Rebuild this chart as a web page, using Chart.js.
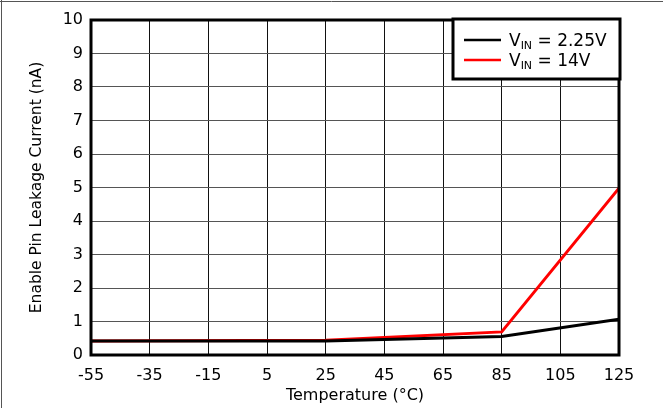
<!DOCTYPE html>
<html>
<head>
<meta charset="utf-8">
<script src="https://cdn.jsdelivr.net/npm/chart.js@4"></script>
<style>
  html, body { margin: 0; padding: 0; background: #fff; }
  canvas { display: block; }
</style>
</head>
<body>
<canvas id="chart" width="663" height="408"></canvas>
<script>
// temperature points (°C) and leakage current (nA)
const temps = [-55, 25, 85, 125];
const vin225 = [0.42, 0.42, 0.55, 1.07];
const vin14 = [0.42, 0.44, 0.69, 4.98];
const xTicks = [-55, -35, -15, 5, 25, 45, 65, 85, 105, 125];
const seriesNames = [['V', 'IN', ' = 2.25V'], ['V', 'IN', ' = 14V']];
const seriesColors = ['#000000', '#ff0000'];

const toPoints = (ys) => temps.map((t, i) => ({ x: t, y: ys[i] }));

// frame around plot, outer image border and the boxed legend
const framePlugin = {
    id: 'frame',
    beforeDraw(chart) {
        const ctx = chart.ctx;
        ctx.save();
        ctx.fillStyle = '#fff';
        ctx.fillRect(0, 0, chart.width, chart.height);
        ctx.strokeStyle = '#555';
        ctx.lineWidth = 1;
        ctx.beginPath();
        ctx.moveTo(0, 1.5);
        ctx.lineTo(chart.width, 1.5);
        ctx.moveTo(1.5, 0);
        ctx.lineTo(1.5, chart.height);
        ctx.stroke();
        ctx.restore();
    },
    afterDraw(chart) {
        const ctx = chart.ctx;
        const a = chart.chartArea;
        ctx.save();
        ctx.strokeStyle = '#000';
        ctx.lineWidth = 3;
        ctx.strokeRect(a.left, a.top, a.right - a.left, a.bottom - a.top);

        // legend box
        const bx = a.right - 166, by = a.top - 1, bw = 167, bh = 60;
        ctx.fillStyle = '#fff';
        ctx.fillRect(bx, by, bw, bh);
        ctx.strokeRect(bx, by, bw, bh);
        seriesNames.forEach((parts, i) => {
            const ly = by + 21 + i * 20;
            ctx.strokeStyle = seriesColors[i];
            ctx.lineWidth = 2.5;
            ctx.beginPath();
            ctx.moveTo(bx + 11, ly);
            ctx.lineTo(bx + 48, ly);
            ctx.stroke();
            ctx.fillStyle = '#000';
            ctx.textBaseline = 'alphabetic';
            let tx = bx + 56;
            const base = ly + 6;
            ctx.font = '17px "DejaVu Sans"';
            ctx.fillText(parts[0], tx, base);
            tx += ctx.measureText(parts[0]).width;
            ctx.font = '11px "DejaVu Sans"';
            ctx.fillText(parts[1], tx, base + 3);
            tx += ctx.measureText(parts[1]).width;
            ctx.font = '17px "DejaVu Sans"';
            ctx.fillText(parts[2], tx, base);
        });
        ctx.restore();
    }
};

const ctx = document.getElementById('chart').getContext('2d');
const myChart = new Chart(ctx, {
    type: 'line',
    data: {
        datasets: [{
            label: 'VIN = 2.25V',
            data: toPoints(vin225),
            borderColor: seriesColors[0],
            borderWidth: 3,
            pointRadius: 0,
            tension: 0,
            fill: false
        }, {
            label: 'VIN = 14V',
            data: toPoints(vin14),
            borderColor: seriesColors[1],
            borderWidth: 3,
            pointRadius: 0,
            tension: 0,
            fill: false
        }]
    },
    options: {
        responsive: false,
        animation: false,
        layout: { padding: { top: 20, right: 44, bottom: 0, left: 0 } },
        plugins: {
            legend: { display: false },
            tooltip: { enabled: false }
        },
        scales: {
            x: {
                type: 'linear',
                min: -55,
                max: 125,
                afterBuildTicks: (scale) => {
                    scale.ticks = xTicks.map(v => ({ value: v }));
                },
                afterFit: (scale) => { scale.height = 53; },
                grid: { color: '#111', lineWidth: 1, drawTicks: false },
                border: { display: false },
                ticks: {
                    color: '#000',
                    padding: 11,
                    maxRotation: 0,
                    autoSkip: false,
                    font: { family: 'DejaVu Sans', size: 16 }
                },
                title: {
                    display: true,
                    text: 'Temperature (°C)',
                    color: '#000',
                    padding: { top: 0, bottom: 3 },
                    font: { family: 'DejaVu Sans', size: 16 }
                }
            },
            y: {
                min: 0,
                max: 10,
                afterFit: (scale) => { scale.width = 91; },
                grid: { color: '#555', lineWidth: 1, drawTicks: false },
                border: { display: false },
                ticks: {
                    stepSize: 1,
                    color: '#000',
                    padding: 8,
                    font: { family: 'DejaVu Sans', size: 16 }
                },
                title: {
                    display: true,
                    text: 'Enable Pin Leakage Current (nA)',
                    color: '#000',
                    padding: { top: 28, bottom: 0 },
                    font: { family: 'DejaVu Sans', size: 15.5 }
                }
            }
        }
    },
    plugins: [framePlugin]
});
</script>
</body>
</html>
